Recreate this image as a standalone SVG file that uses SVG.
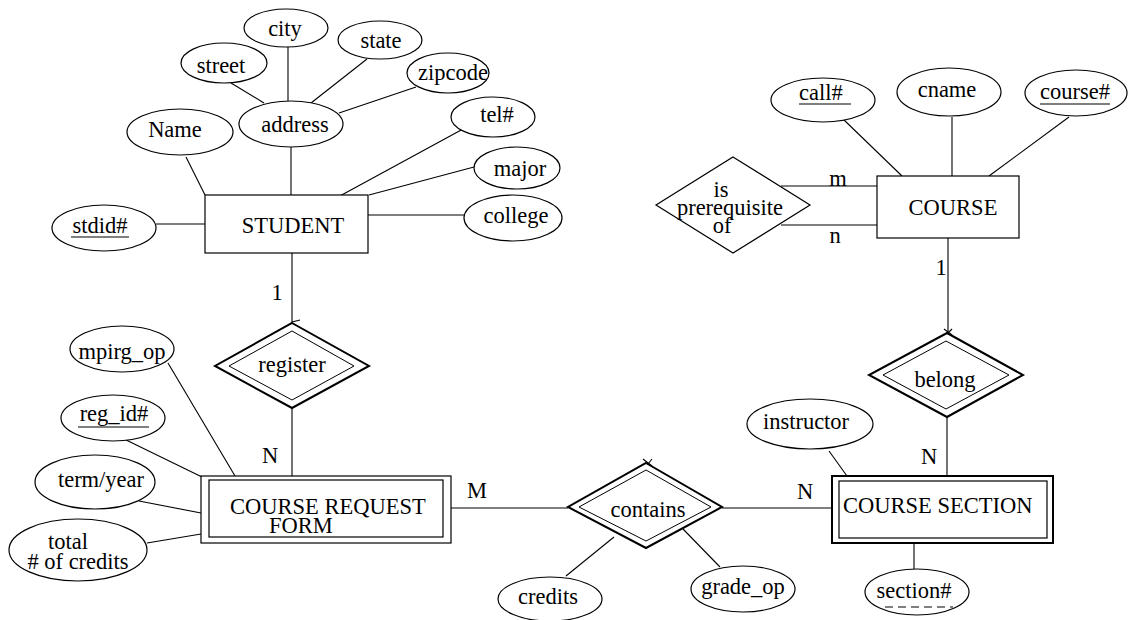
<svg xmlns="http://www.w3.org/2000/svg" width="1128" height="620" viewBox="0 0 1128 620" font-family="'Liberation Serif', 'Times New Roman', 'DejaVu Serif', serif" font-size="22.5">
<style>
text{fill:#000;text-anchor:middle}
.st{text-anchor:start}
ellipse,rect,polygon{fill:#fff;stroke:#000;stroke-width:1.2}
.thick{stroke-width:2}
.thin{stroke-width:1}
#connectors line{stroke:#000;stroke-width:1.1}
.ul{stroke:#000;stroke-width:1.1}
.dash{stroke:#000;stroke-width:1.1;stroke-dasharray:8 5}
</style>
<rect x="0" y="0" width="1128" height="620" style="fill:#fff;stroke:none"/>
<g id="connectors">
<line x1="231" y1="83" x2="264" y2="103"/>
<line x1="288" y1="46" x2="288" y2="101"/>
<line x1="367" y1="59" x2="311" y2="103"/>
<line x1="416" y1="87" x2="339" y2="113"/>
<line x1="291" y1="147" x2="291" y2="195"/>
<line x1="186" y1="157" x2="205" y2="195"/>
<line x1="463" y1="129" x2="338" y2="197"/>
<line x1="474" y1="167" x2="369" y2="195"/>
<line x1="464" y1="215" x2="368" y2="215"/>
<line x1="156" y1="224" x2="205" y2="224"/>
<line x1="292" y1="253" x2="292" y2="323"/>
<line x1="292" y1="322" x2="300" y2="320"/>
<line x1="292" y1="408" x2="292" y2="476"/>
<line x1="168" y1="363" x2="235" y2="476"/>
<line x1="122" y1="438" x2="202" y2="477"/>
<line x1="139" y1="501" x2="201" y2="513"/>
<line x1="147" y1="543" x2="201" y2="534"/>
<line x1="451" y1="508" x2="568" y2="508"/>
<line x1="722" y1="508" x2="832" y2="508"/>
<line x1="614" y1="537" x2="566" y2="576"/>
<line x1="683" y1="529" x2="720" y2="567"/>
<line x1="829" y1="451" x2="847" y2="476"/>
<line x1="947" y1="417" x2="947" y2="476"/>
<line x1="948" y1="238" x2="948" y2="333"/>
<line x1="944" y1="329" x2="952" y2="335"/>
<line x1="952" y1="329" x2="944" y2="337"/>
<line x1="643" y1="459" x2="652" y2="466"/>
<line x1="652" y1="459" x2="644" y2="469"/>
<line x1="914" y1="543" x2="914" y2="569"/>
<line x1="843" y1="119" x2="902" y2="176"/>
<line x1="952" y1="117" x2="952" y2="176"/>
<line x1="1069" y1="117" x2="989" y2="176"/>
<line x1="781" y1="186" x2="877" y2="186"/>
<line x1="781" y1="225" x2="877" y2="225"/>
</g>
<g id="student">
<rect x="205" y="195" width="163" height="58"/>
<text x="293" y="233">STUDENT</text>
</g>
<g id="attr-city"><ellipse cx="286" cy="28" rx="42" ry="19"/><text x="285" y="36">city</text></g>
<g id="attr-street"><ellipse cx="224" cy="63" rx="43" ry="20"/><text x="221" y="73">street</text></g>
<g id="attr-state"><ellipse cx="380" cy="40" rx="42" ry="19"/><text x="381" y="48">state</text></g>
<g id="attr-zipcode"><ellipse cx="448" cy="73" rx="41" ry="20"/><text x="453" y="80">zipcode</text></g>
<g id="attr-address"><ellipse cx="291" cy="124" rx="52" ry="23"/><text x="295" y="132">address</text></g>
<g id="attr-name"><ellipse cx="180" cy="132" rx="53" ry="23"/><text x="175" y="137">Name</text></g>
<g id="attr-tel"><ellipse cx="493" cy="117" rx="42" ry="20"/><text x="497" y="122">tel#</text></g>
<g id="attr-major"><ellipse cx="517" cy="168" rx="43" ry="21"/><text x="520" y="176">major</text></g>
<g id="attr-college"><ellipse cx="513" cy="218" rx="49" ry="23"/><text x="516" y="223">college</text></g>
<g id="attr-stdid"><ellipse cx="104" cy="228" rx="52" ry="23"/><text x="100" y="233">stdid#</text><line class="ul" x1="71" y1="237" x2="129" y2="237"/></g>
<g id="course">
<rect x="877" y="176" width="142" height="62"/>
<text x="953" y="215">COURSE</text>
</g>
<g id="attr-call"><ellipse cx="823" cy="100" rx="52" ry="22"/><text class="st" x="799" y="100">call#</text><line class="ul" x1="799" y1="104" x2="851" y2="104"/></g>
<g id="attr-cname"><ellipse cx="949" cy="92" rx="52" ry="24"/><text x="947" y="97">cname</text></g>
<g id="attr-coursenum"><ellipse cx="1076" cy="93" rx="51" ry="23"/><text x="1075" y="99">course#</text><line class="ul" x1="1040" y1="104" x2="1110" y2="104"/></g>
<g id="rel-prereq">
<polygon points="733,157 810,205 733,253 656,205"/>
<text x="721" y="197">is</text>
<text x="730" y="215">prerequisite</text>
<text x="722" y="233">of</text>
</g>
<g id="labels">
<text x="838" y="186">m</text>
<text x="835" y="243">n</text>
<text x="941" y="275">1</text>
<text x="277" y="300">1</text>
<text x="270" y="463">N</text>
<text x="477" y="498">M</text>
<text x="805" y="499">N</text>
<text x="929" y="464">N</text>
</g>
<g id="rel-register">
<polygon class="thick" points="292,323 369,366 292,408 215,366"/>
<polygon class="thin" points="292,331 354,366 292,400 229,366"/>
<text x="292" y="372">register</text>
</g>
<g id="rel-belong">
<polygon class="thick" points="947,333 1023,375 947,417 869,375"/>
<polygon class="thin" points="946,341 1009,375 946,409 883,375"/>
<text x="945" y="387">belong</text>
</g>
<g id="rel-contains">
<polygon class="thick" points="646,463 722,507 646,548 568,507"/>
<polygon class="thin" points="646,470 711,507 646,541 579,507"/>
<text x="648" y="517">contains</text>
</g>
<g id="crf">
<rect x="201" y="476" width="250" height="67"/>
<rect x="209" y="480" width="234" height="57"/>
<text class="st" x="230" y="514">COURSE REQUEST</text>
<text class="st" x="269" y="533">FORM</text>
</g>
<g id="attr-mpirg"><ellipse cx="122" cy="349" rx="52" ry="23"/><text x="122" y="359">mpirg_op</text></g>
<g id="attr-regid"><ellipse cx="113" cy="418" rx="52" ry="23"/><text x="114" y="421">reg_id#</text><line class="ul" x1="78" y1="427" x2="149" y2="427" style="stroke:#555;stroke-width:1.5"/></g>
<g id="attr-term"><ellipse cx="95" cy="482" rx="60" ry="27"/><text x="101" y="487">term/year</text></g>
<g id="attr-total"><ellipse cx="78" cy="550" rx="69" ry="31"/><text x="68" y="549">total</text><text x="78" y="569"># of credits</text></g>
<g id="course-section">
<rect class="thick" x="832" y="476" width="221" height="67"/>
<rect x="839" y="481" width="208" height="57"/>
<text class="st" x="843" y="513">COURSE SECTION</text>
</g>
<g id="attr-instructor"><ellipse cx="810" cy="424" rx="63" ry="25"/><text x="806" y="429">instructor</text></g>
<g id="attr-credits"><ellipse cx="550" cy="599" rx="52" ry="22"/><text x="548" y="604">credits</text></g>
<g id="attr-grade"><ellipse cx="743" cy="589" rx="52" ry="23"/><text x="743" y="594">grade_op</text></g>
<g id="attr-section"><ellipse cx="917" cy="592" rx="52" ry="23"/><text x="914" y="598">section#</text><line class="dash" x1="885" y1="607" x2="953" y2="607"/></g>
</svg>
